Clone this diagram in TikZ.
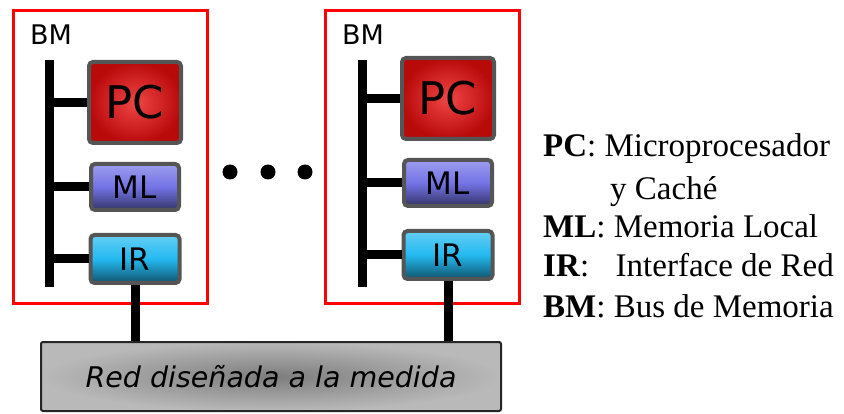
\documentclass[tikz,border=0pt]{standalone}
\usepackage{fontspec}
\setmainfont{Liberation Serif}
\newfontfamily\boxfont{DejaVu Sans}
\usetikzlibrary{positioning}
\definecolor{framered}{RGB}{255,0,0}
\definecolor{boxgray} {RGB}{85,85,85}
\definecolor{pclight} {RGB}{240,70,70}
\definecolor{pcdark}  {RGB}{185,10,10}
\definecolor{mlblue}  {RGB}{115,115,230}
\definecolor{irblue}  {RGB}{35,185,240}
\definecolor{netdark} {RGB}{125,125,125}
\definecolor{netlight}{RGB}{185,185,185}
\tikzset{
  bmframe/.style={draw=framered, line width=3pt, inner sep=0pt,
                  minimum width=194pt, minimum height=293pt},
  busline/.style={line width=9pt},
  unitbox/.style={draw=boxgray, line width=4pt, rounded corners=4pt,
                  inner sep=0pt, text=black},
  pcbox/.style  ={unitbox, minimum width=92pt, minimum height=81pt,
                  inner color=pclight, outer color=pcdark,
                  font=\boxfont\fontsize{45}{45}\selectfont},
  mlbox/.style  ={unitbox, minimum width=88pt, minimum height=46pt,
                  top color=mlblue!70!white, bottom color=mlblue!45!black,
                  middle color=mlblue,
                  font=\boxfont\fontsize{31}{31}\selectfont},
  irbox/.style  ={unitbox, minimum width=89pt, minimum height=48pt,
                  top color=irblue!70!white, bottom color=irblue!45!black,
                  middle color=irblue,
                  font=\boxfont\fontsize{31}{31}\selectfont},
  bmlabel/.style={anchor=base, inner sep=0pt,
                  font=\boxfont\fontsize{27}{27}\selectfont},
  dotnode/.style={circle, fill=black, minimum size=15pt, inner sep=0pt},
  netbox/.style ={draw=black!85, line width=2pt, rounded corners=2pt,
                  inner color=netdark, outer color=netlight,
                  minimum width=460pt, minimum height=69pt, inner sep=0pt,
                  font=\boxfont\itshape\fontsize{28.5}{28.5}\selectfont},
  legend/.style ={anchor=base west, inner sep=0pt,
                  font=\fontsize{33}{40}\selectfont},
}

\begin{document}
\begin{tikzpicture}[x=1pt, y=-1pt]
  \useasboundingbox (0,0) rectangle (844,414);
  % left module
  \node[bmframe] (bm1) at (110,157.5) {};
  \node[bmlabel] (bmlab1) at (51,45) {BM};
  \coordinate (bus1top) at (49,60);
  \coordinate (bus1bot) at (49,287);
  \node[pcbox] (pc1) at (135,102.5) {PC};
  \node[mlbox, below=17pt of pc1] (ml1) {ML};
  \node[irbox, below=21pt of ml1] (ir1) {IR};
  \draw[busline] (bus1top) -- (bus1bot);
  \draw[busline] (pc1.west) -- (pc1.west -| bus1top);
  \draw[busline] (ml1.west) -- (ml1.west -| bus1top);
  \draw[busline] (ir1.west) -- (ir1.west -| bus1top);
  % right module
  \node[bmframe] (bm2) at (422.5,157.5) {};
  \node[bmlabel] (bmlab2) at (363,45) {BM};
  \coordinate (bus2top) at (362,60);
  \coordinate (bus2bot) at (362,287);
  \node[pcbox] (pc2) at (448,98.5) {PC};
  \node[mlbox, below=17pt of pc2] (ml2) {ML};
  \node[irbox, below=21pt of ml2] (ir2) {IR};
  \draw[busline] (bus2top) -- (bus2bot);
  \draw[busline] (pc2.west) -- (pc2.west -| bus2top);
  \draw[busline] (ml2.west) -- (ml2.west -| bus2top);
  \draw[busline] (ir2.west) -- (ir2.west -| bus2top);
  % dots
  \node[dotnode] (dot1) at (230,172) {};
  \node[dotnode] (dot2) at (268,172) {};
  \node[dotnode] (dot3) at (305,172) {};
  % network
  \node[netbox] (net) at (271,376.5) {Red diseñada a la medida};
  \draw[busline] (ir1.south) -- (ir1.south |- net.north);
  \draw[busline] (ir2.south) -- (ir2.south |- net.north);
  % legend
  \node[legend] (lgpc)  at (543,157) {\textbf{PC}: Microprocesador};
  \node[legend] (lgpc2) at (610,200) {y Caché};
  \node[legend] (lgml)  at (543,238) {\textbf{ML}: Memoria Local};
  \node[legend] (lgir)  at (543,277) {\textbf{IR}:\hspace{0.8em}Interface de Red};
  \node[legend] (lgbm)  at (543,317) {\textbf{BM}: Bus de Memoria};
\end{tikzpicture}
\end{document}
